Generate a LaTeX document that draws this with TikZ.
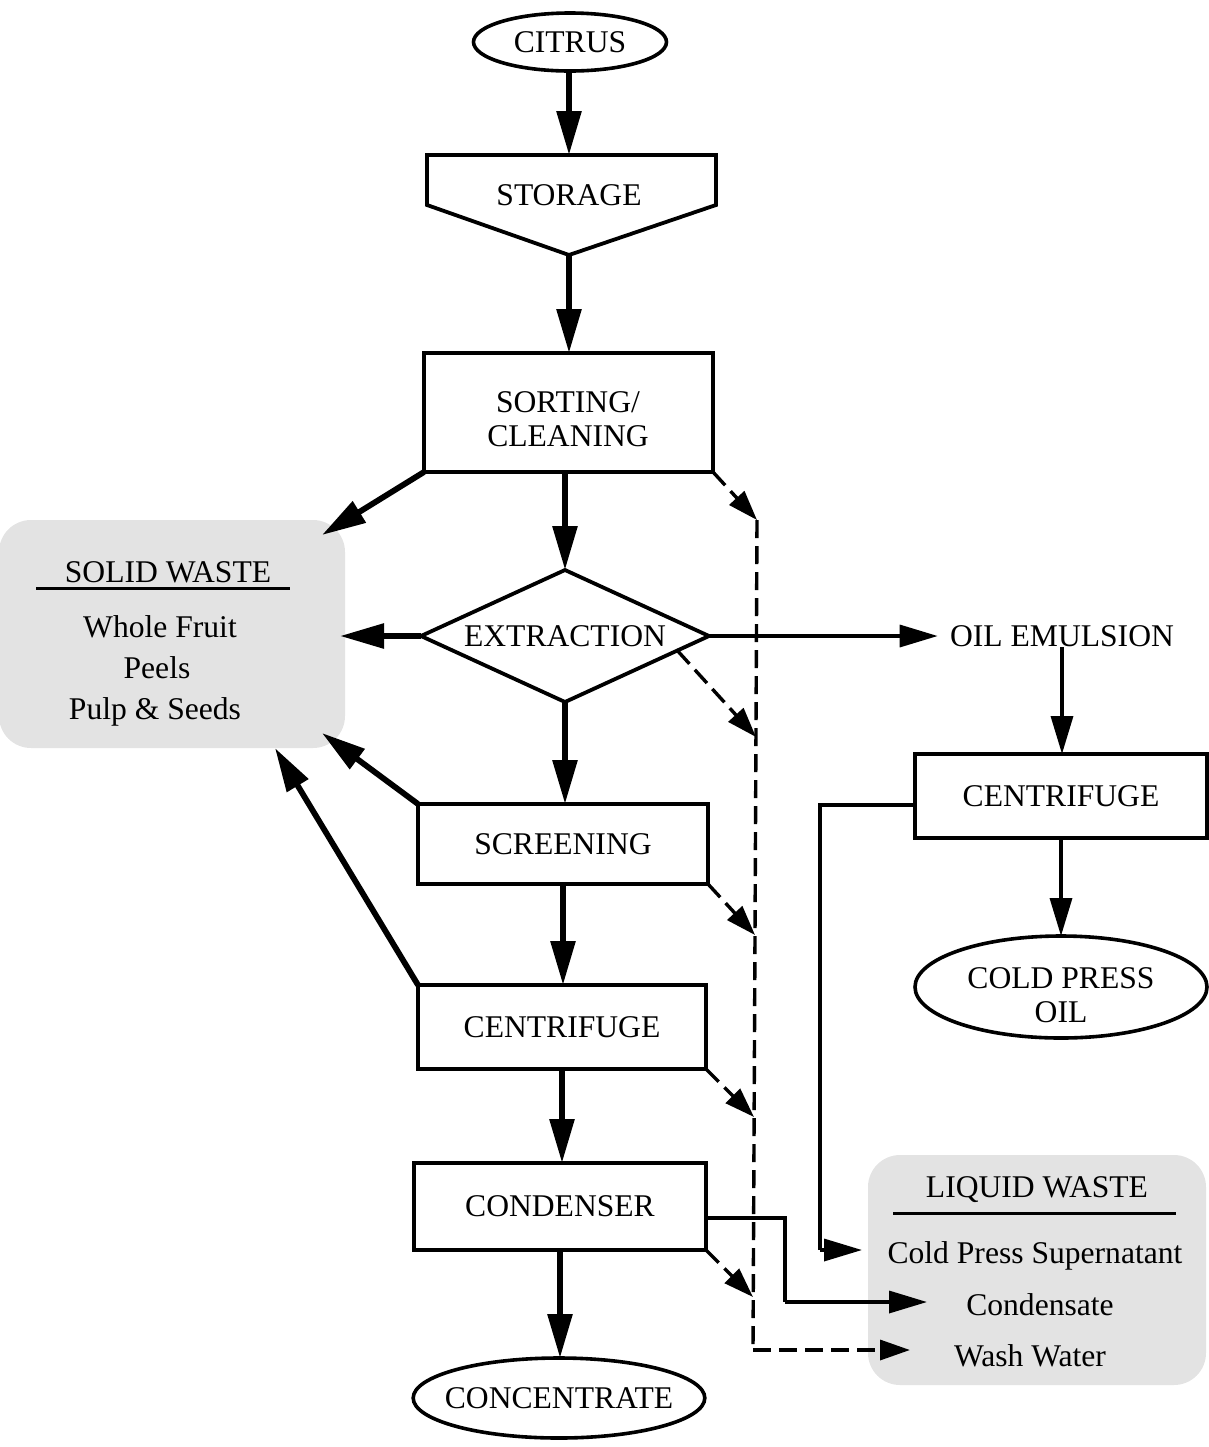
\documentclass[tikz,border=0pt]{standalone}
\usepackage{fontspec}
\setmainfont{Liberation Serif}
\usetikzlibrary{arrows.meta,shapes.geometric,calc}

\newcommand\lbltxt{\fontsize{15.8}{17}\selectfont}

\tikzset{
  box/.style={draw, rectangle, line width=1.9pt, inner sep=0pt, outer sep=0pt,
              font=\lbltxt, align=center},
  oval/.style={draw, ellipse, line width=1.8pt, inner sep=0pt, outer sep=0pt,
               font=\lbltxt, align=center},
  txt/.style={inner sep=0pt, font=\lbltxt, align=center},
  wastearea/.style={fill=black!11, rounded corners=16pt, inner sep=0pt},
  flow/.style={line width=2.9pt, -{Triangle[length=22pt,width=12pt]}},
  side/.style={line width=1.7pt, -{Triangle[length=19pt,width=11pt]}},
  sideline/.style={line width=1.7pt},
  washline/.style={line width=1.7pt, dash pattern=on 9pt off 4pt},
  wash/.style={washline, -{Triangle[length=15pt,width=10pt]}},
  uline/.style={line width=1.5pt}
}

\begin{document}
\begin{tikzpicture}[x=0.5pt,y=-0.5pt]
\useasboundingbox (0,0) rectangle (1209,1447);

% ---- waste collection areas ----
\node[wastearea, minimum width=173pt, minimum height=114pt] (solid) at (172,634) {};
\node[wastearea, minimum width=169pt, minimum height=115pt] (liquid) at (1037,1270) {};

\node[txt] (solidhead) at (168,572) {SOLID WASTE};
\draw[uline] (36,588) -- (290,588);
\node[txt] (sw1) at (160,627) {Whole Fruit};
\node[txt] (sw2) at (157,668) {Peels};
\node[txt] (sw3) at (155,712) {Pulp \& Seeds};

\node[txt] (liquidhead) at (1037,1190) {LIQUID WASTE};
\draw[uline] (893,1213) -- (1176,1213);
\node[txt] (lw1) at (1035,1256) {Cold Press Supernatant};
\node[txt] (lw2) at (1040,1305) {Condensate};
\node[txt] (lw3) at (1030,1356) {Wash Water};

% ---- main process line ----
\node[oval, minimum width=96.5pt, minimum height=29pt] (citrus) at (570,42) {CITRUS};

\coordinate (st-nw) at (427,155);
\coordinate (st-ne) at (716,155);
\coordinate (st-e)  at (716,205);
\coordinate (st-tip) at (569,255);
\coordinate (st-w)  at (427,205);
\coordinate (st-top) at (569,155);
\draw[line width=1.9pt, line join=miter] (st-nw) -- (st-ne) -- (st-e) -- (st-tip) -- (st-w) -- cycle;
\node[txt] (storage) at (569,195) {STORAGE};

\node[box, minimum width=144.5pt, minimum height=59.5pt] (sorting) at (568.5,412.5) {};
\node[txt] (sortingtxt) at (568,419) {SORTING/\\CLEANING};
\node[draw, diamond, shape aspect=2.18, line width=1.9pt, inner sep=0pt, outer sep=0pt,
      minimum width=144pt, minimum height=66pt, font=\lbltxt] (extraction) at (565,636) {EXTRACTION};
\node[box, minimum width=145pt, minimum height=40pt] (screening) at (563,844) {SCREENING};
\node[box, minimum width=144pt, minimum height=42pt] (centA) at (562,1027) {CENTRIFUGE};
\node[box, minimum width=146pt, minimum height=43.5pt] (condenser) at (560,1206.5) {CONDENSER};
\node[oval, inner xsep=-5.5pt, minimum width=145pt, minimum height=40pt] (concentrate) at (559,1398) {CONCENTRATE};

% ---- oil recovery branch ----
\node[txt, inner xsep=6pt] (oil) at (1062,636) {OIL EMULSION};
\node[box, minimum width=146pt, minimum height=42pt] (centB) at (1061,796) {CENTRIFUGE};
\node[oval, minimum width=146pt, minimum height=51pt] (cpo) at (1061,987) {};
\node[txt] (cpotxt) at (1061,995) {COLD PRESS\\OIL};

% ---- free ends at the waste areas ----
\coordinate (sw-a) at (322,535);
\coordinate (sw-b) at (340,636);
\coordinate (sw-c) at (322,733);
\coordinate (sw-d) at (275,748);
\coordinate (lw-a) at (862,1250);
\coordinate (lw-b) at (927,1302);
\coordinate (lw-c) at (910,1350);

% ---- wash water collector ----
\coordinate (d1) at (757,520);
\coordinate (d2) at (756,737);
\coordinate (d3) at (755,935);
\coordinate (d4) at (754,1117);
\coordinate (d5) at (753,1297);
\coordinate (dbot) at (753,1350);

% ---- main flow arrows (kept vertical) ----
\draw[flow] (st-tip |- citrus.south) -- (st-top);
\draw[flow] (st-tip) -- (st-tip |- sorting.north);
\draw[flow] (extraction.north |- sorting.south) -- (extraction.north);
\draw[flow] (extraction.south) -- (extraction.south |- screening.north);
\draw[flow] (screening.south) -- (screening.south |- centA.north);
\draw[flow] (centA.south) -- (centA.south |- condenser.north);
\draw[flow] (condenser.south) -- (condenser.south |- concentrate.north);

% ---- to solid waste ----
\draw[flow] (sorting.south west) -- (sw-a);
\draw[flow] (extraction.west) -- (sw-b);
\draw[flow] (screening.north west) -- (sw-c);
\draw[flow] (centA.north west) -- (sw-d);

% ---- oil branch ----
\draw[side] (extraction.east) -- (oil.west);
\draw[side] (oil.south) -- (oil.south |- centB.north);
\draw[side] (centB.south) -- (centB.south |- cpo.north);

% ---- to liquid waste ----
\draw[sideline] ($(centB.west)+(0,9)$) -- (820,805) -- (820,1250);
\draw[side] (820,1250) -- (lw-a);
\draw[sideline] ($(condenser.east)+(0,11.5)$) -- (785,1218) -- (785,1302);
\draw[side] (785,1302) -- (lw-b);

% ---- wash water (dashed) ----
\draw[washline] (d1) -- (dbot);
\draw[wash] (dbot) -- (lw-c);
\draw[wash] (sorting.south east) -- (d1);
\draw[wash] ($(extraction.east)!0.22!(extraction.south)$) -- (d2);
\draw[wash] (screening.south east) -- (d3);
\draw[wash] (centA.south east) -- (d4);
\draw[wash] (condenser.south east) -- (d5);
\end{tikzpicture}
\end{document}
